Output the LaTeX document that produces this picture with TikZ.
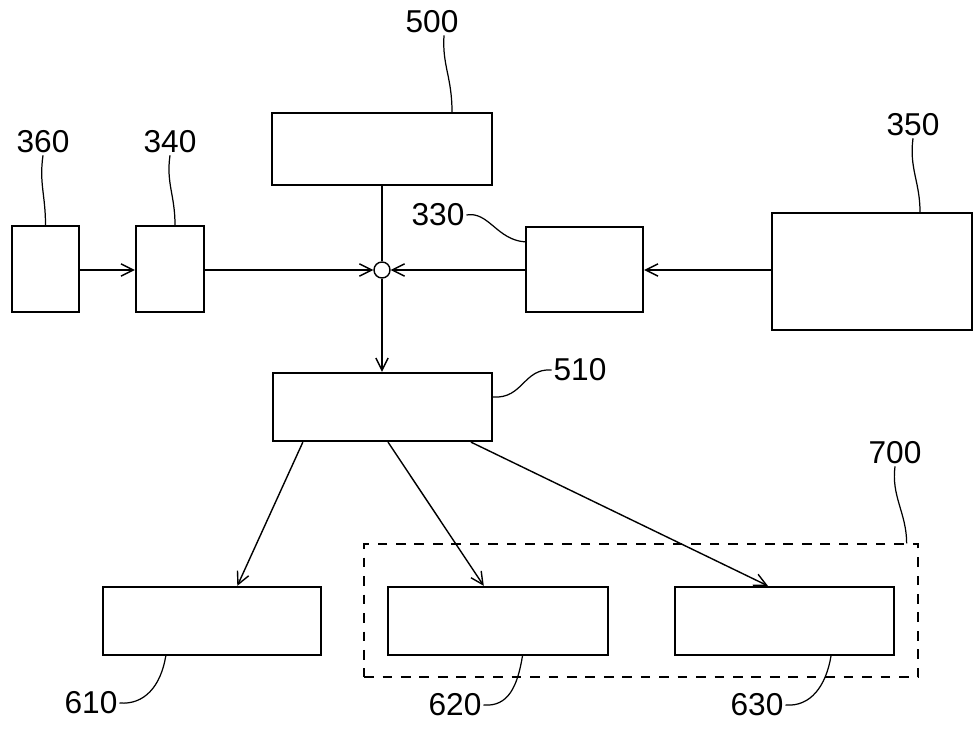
\documentclass[tikz,border=0pt]{standalone}
\usepackage{fontspec}
\setmainfont{Liberation Sans}
\usetikzlibrary{arrows.meta, calc, positioning}

\begin{document}
\begin{tikzpicture}[x=0.02cm, y=-0.02cm,
    blk/.style={draw, line width=1.3pt, inner sep=0pt},
    lbl/.style={font=\fontsize{18}{18}\selectfont, inner sep=1pt},
    flow/.style={line width=0.8pt, -{Straight Barb[length=7pt,width=7pt]}},
    lead/.style={line width=0.7pt}]
       % ブロック図
       \useasboundingbox (0,0) rectangle (973,729);

       \node[draw, dash pattern=on 5.5pt off 5pt, line width=0.8pt, minimum width=11.08cm, minimum height=2.66cm] (g700) at (641,610.5) {};

       \node[blk, minimum width=1.34cm, minimum height=1.72cm] (b360) at (45.5,269) {};
       \node[blk, minimum width=1.36cm, minimum height=1.72cm] (b340) at (170,269) {};
       \node[blk, minimum width=4.4cm, minimum height=1.44cm] (b500) at (382,149) {};
       \node[blk, minimum width=2.34cm, minimum height=1.7cm] (b330) at (584.5,269.5) {};
       \node[blk, minimum width=4.0cm, minimum height=2.34cm] (b350) at (872,271.5) {};
       \node[blk, minimum width=4.38cm, minimum height=1.36cm] (b510) at (382.5,407) {};
       \node[blk, minimum width=4.36cm, minimum height=1.36cm] (b610) at (212,621) {};
       \node[blk, minimum width=4.4cm, minimum height=1.36cm] (b620) at (498,621) {};
       \node[blk, minimum width=4.38cm, minimum height=1.36cm] (b630) at (784.5,621) {};

       \node[draw, circle, line width=0.8pt, minimum size=0.32cm, inner sep=0pt] (junc) at (382,270) {};

       \draw[flow] (b360.east |- junc) -- (b340.west |- junc);
       \draw[flow] (b340.east |- junc) -- (junc.west);
       \draw[flow] (b330.west |- junc) -- (junc.east);
       \draw[flow] (b350.west |- junc) -- (b330.east |- junc);
       \draw[line width=0.8pt] (b500.south -| junc) -- (junc.north);
       \draw[flow] (junc.south) -- (b510.north -| junc);

       \draw[flow] ($(b510.south west)!0.14!(b510.south east)$) -- ($(b610.north west)!0.615!(b610.north east)$);
       \draw[flow] ($(b510.south west)!0.525!(b510.south east)$) -- ($(b620.north west)!0.436!(b620.north east)$);
       \draw[flow] ($(b510.south west)!0.9!(b510.south east)$) -- ($(b630.north west)!0.425!(b630.north east)$);

       \node[lbl] (l360) at (43,142) {360};
       \node[lbl] (l340) at (170,142) {340};
       \node[lbl] (l500) at (432,22) {500};
       \node[lbl] (l330) at (438,215) {330};
       \node[lbl] (l350) at (913,125) {350};
       \node[lbl] (l510) at (580,370) {510};
       \node[lbl] (l700) at (895,453) {700};
       \node[lbl] (l610) at (91,703) {610};
       \node[lbl] (l620) at (455,705) {620};
       \node[lbl] (l630) at (757,705) {630};

       \draw[lead] (l360.south) .. controls +(-4,28) and +(0,-30) .. (b360.north);
       \draw[lead] (l340.south) .. controls +(-4,28) and +(0,-30) .. ($(b340.north)+(5,0)$);
       \draw[lead] ($(l500.south)+(12,0)$) .. controls +(-2,30) and +(0,-35) .. ($(b500.north)+(70,0)$);
       \draw[lead] (l330.east) .. controls +(22,-4) and +(-28,-2) .. ($(b330.north west)+(0,16)$);
       \draw[lead] (l350.south) .. controls +(-4,30) and +(0,-30) .. ($(b350.north)+(48,0)$);
       \draw[lead] (l510.west) .. controls +(-28,-2) and +(30,2) .. ($(b510.east)+(0,-10)$);
       \draw[lead] (l700.south) .. controls +(-4,30) and +(0,-30) .. ($(g700.north east)+(-12,0)$);
       \draw[lead] (l610.east) .. controls +(25,2) and +(-5,30) .. ($(b610.south west)!0.29!(b610.south east)$);
       \draw[lead] (l620.east) .. controls +(25,2) and +(-5,30) .. ($(b620.south west)!0.61!(b620.south east)$);
       \draw[lead] (l630.east) .. controls +(25,2) and +(-5,30) .. ($(b630.south west)!0.71!(b630.south east)$);
   \end{tikzpicture}
\end{document}
